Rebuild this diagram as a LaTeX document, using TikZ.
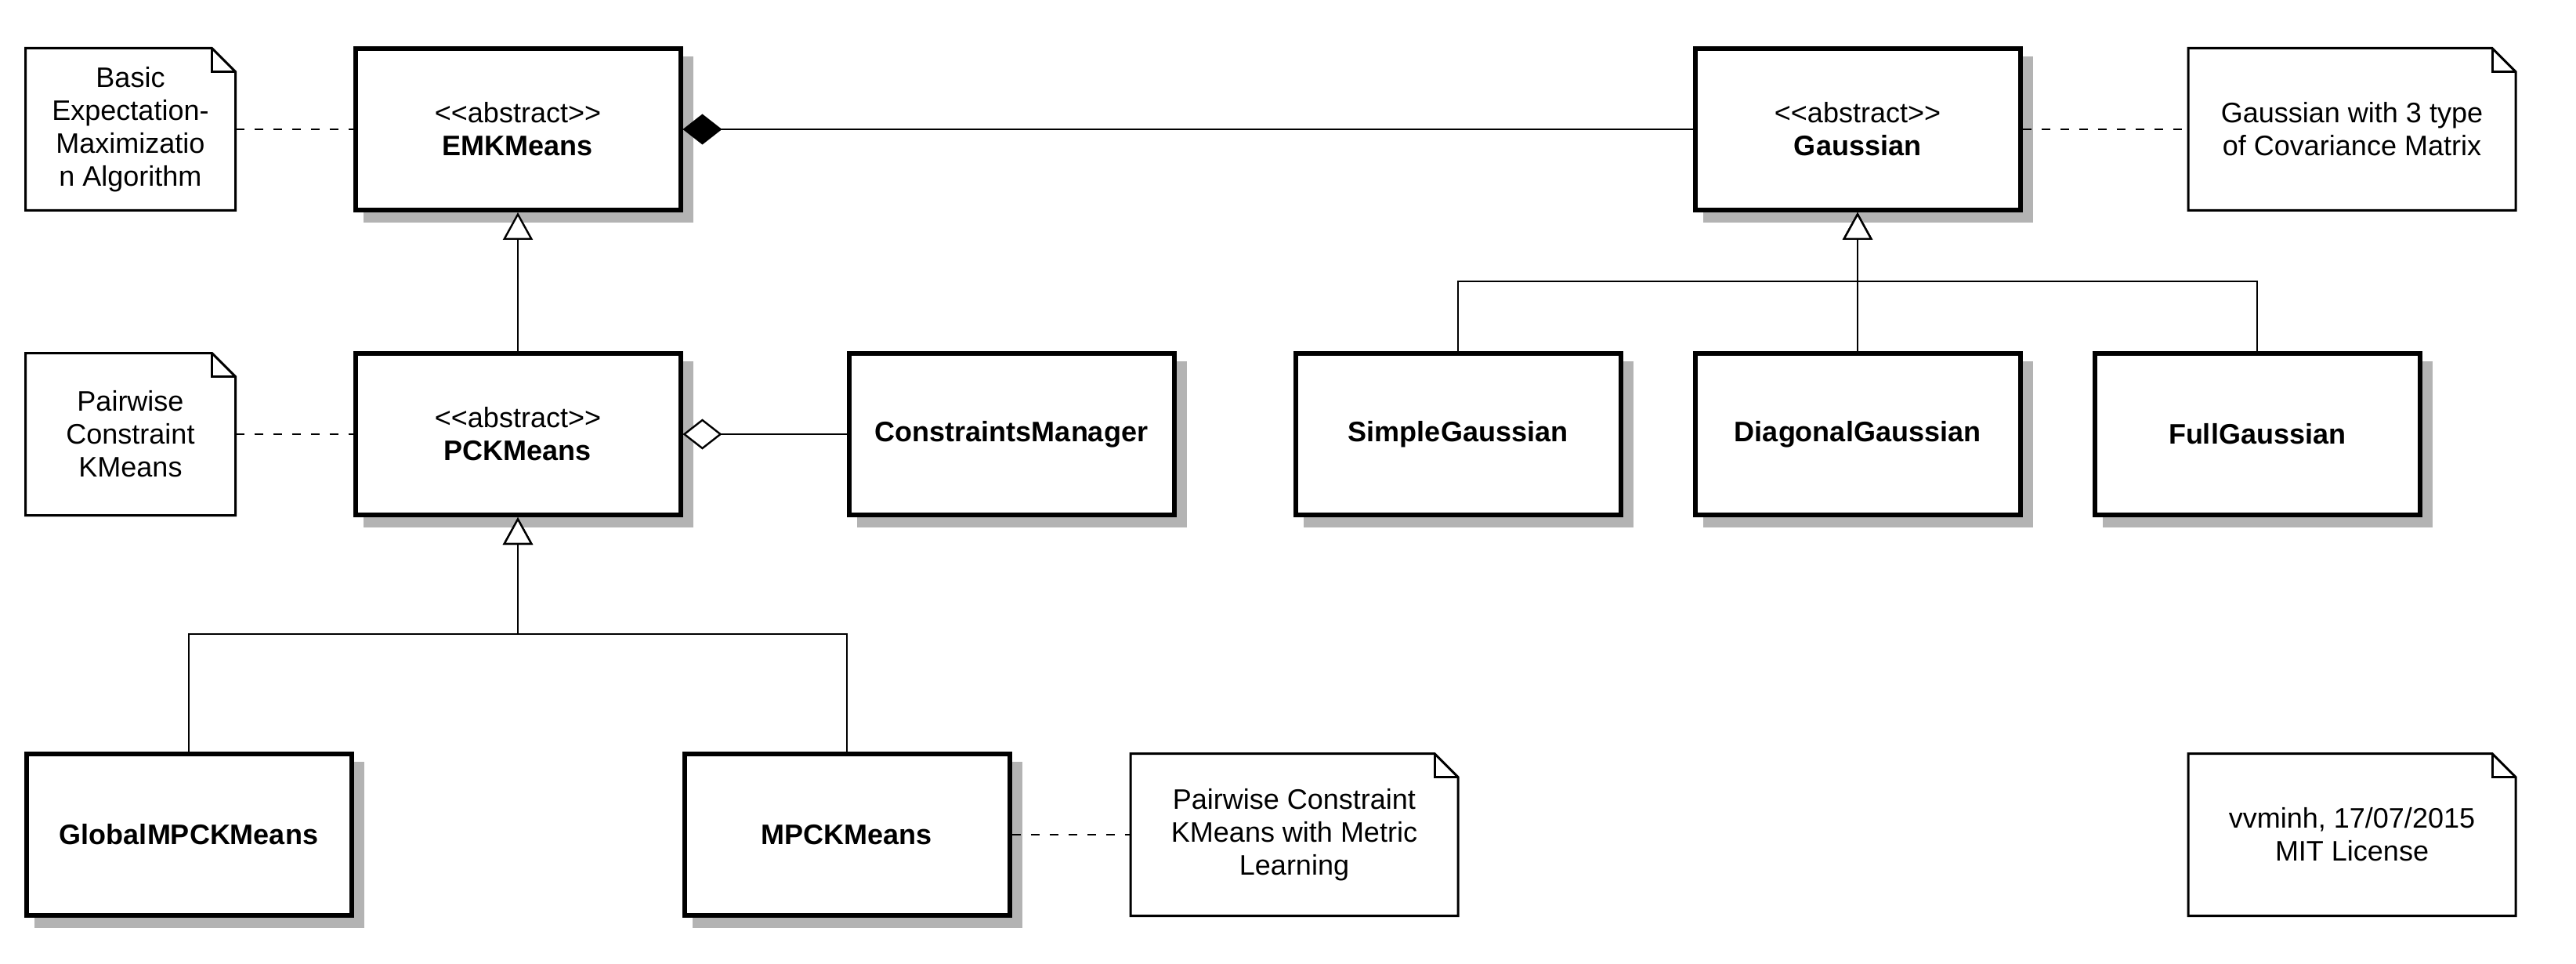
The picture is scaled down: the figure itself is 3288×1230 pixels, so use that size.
\documentclass[tikz,border=0pt]{standalone}
\usepackage{fontspec}
\setmainfont{Liberation Sans}[Ligatures=TeXOff]
\usetikzlibrary{arrows.meta,shadows}
\definecolor{shadowgray}{RGB}{179,179,179}
\newcommand{\drawnote}[1]{%
  \draw[noteline] (#1.north west) -- ([xshift=-7.5pt]#1.north east) -- ([yshift=-7.5pt]#1.north east) -- (#1.south east) -- (#1.south west) -- cycle;
  \draw[noteline] ([xshift=-7.5pt]#1.north east) -- ([xshift=-7.5pt,yshift=-7.5pt]#1.north east) -- ([yshift=-7.5pt]#1.north east);}
\tikzset{
  cls/.style={draw, line width=1.5pt, fill=white, minimum width=103.75pt, minimum height=51.5pt,
    align=center, inner sep=0pt,
    general shadow={fill=shadowgray, draw=shadowgray, line width=1.5pt, shadow xshift=3.25pt, shadow yshift=-3.25pt}},
  notebox/.style={align=center, inner sep=0pt, outer sep=0pt, minimum height=51.75pt},
  smallnote/.style={notebox, minimum width=67pt},
  bignote/.style={notebox, minimum width=104.5pt},
  noteline/.style={line width=0.75pt, line join=miter},
  conn/.style={line width=0.6pt},
  dashconn/.style={line width=0.6pt, dash pattern=on 2.75pt off 3.25pt},
  inh/.style={conn, -{Triangle[width=9.5pt,length=8.75pt,fill=white]}},
  comp/.style={conn, -{Diamond[width=9.75pt,length=12.5pt]}},
  aggr/.style={conn, -{Diamond[width=9.75pt,length=12.5pt,fill=white]}}
}
\begin{document}
\begin{tikzpicture}[x=0.25pt, y=-0.25pt, font=\fontsize{9pt}{10.5pt}\selectfont]
\useasboundingbox (0,0) rectangle (3288,1230);
% classes
\node[cls] (emk) at (661,165) {<<abstract>>\\\textbf{EMKMeans}};
\node[cls] (pck) at (661,554) {<<abstract>>\\\textbf{PCKMeans}};
\node[cls] (cm) at (1291,554) {\textbf{ConstraintsManager}};
\node[cls] (gauss) at (2371,165) {<<abstract>>\\\textbf{Gaussian}};
\node[cls] (simple) at (1861,554) {\textbf{SimpleGaussian}};
\node[cls] (diag) at (2371,554) {\textbf{DiagonalGaussian}};
\node[cls] (full) at (2881,554) {\textbf{FullGaussian}};
\node[cls] (global) at (241,1065) {\textbf{GlobalMPCKMeans}};
\node[cls] (mpck) at (1081,1065) {\textbf{MPCKMeans}};
% notes
\node[smallnote] (n1) at (166.5,165) {Basic\\Expectation-\\Maximizatio\\n Algorithm};
\node[smallnote] (n2) at (166.5,554) {Pairwise\\Constraint\\KMeans};
\node[bignote] (ng) at (3002,165) {Gaussian with 3 type\\of Covariance Matrix};
\node[bignote] (n3) at (1652,1065) {Pairwise Constraint\\KMeans with Metric\\Learning};
\node[bignote] (nl) at (3002,1065) {vvminh, 17/07/2015\\MIT License};
\drawnote{n1}
\drawnote{n2}
\drawnote{ng}
\drawnote{n3}
\drawnote{nl}
% note links
\draw[dashconn] (n1) -- (emk);
\draw[dashconn] (n2) -- (pck);
\draw[dashconn] (gauss) -- (ng);
\draw[dashconn] (mpck) -- (n3);
% composition and aggregation
\draw[comp] (gauss) -- (emk);
\draw[aggr] (cm) -- (pck);
% inheritance
\coordinate (gbar) at (2371,359);
\coordinate (pbar) at (661,809);
\draw[inh] (pck) -- (emk);
\draw[inh] (simple.north) |- (gbar) -- (gauss.south);
\draw[inh] (full.north) |- (gbar) -- (gauss.south);
\draw[inh] (diag) -- (gauss);
\draw[inh] (global.north) |- (pbar) -- (pck.south);
\draw[inh] (mpck.north) |- (pbar) -- (pck.south);
\end{tikzpicture}
\end{document}
